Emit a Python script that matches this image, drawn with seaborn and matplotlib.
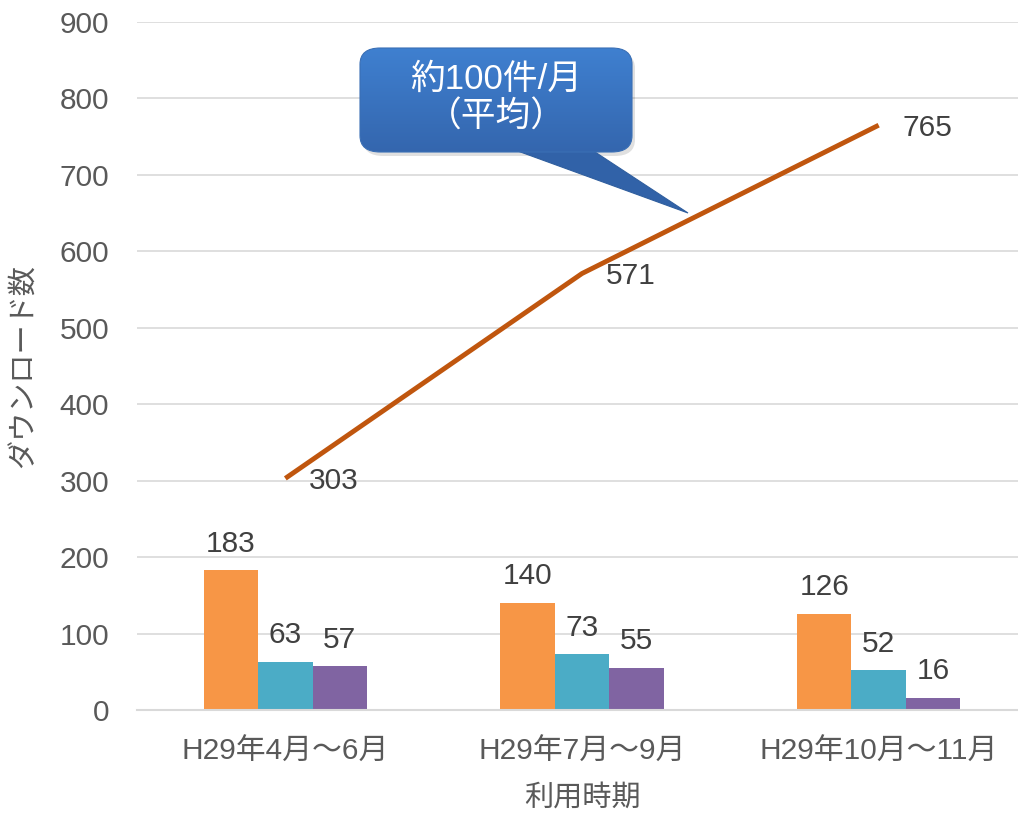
import matplotlib
matplotlib.use("Agg")
import matplotlib.pyplot as plt
import seaborn as sns
import pandas as pd
from matplotlib.patches import FancyBboxPatch, Polygon
from matplotlib.colors import LinearSegmentedColormap
import numpy as np

periods = ["H29年4月～6月", "H29年7月～9月", "H29年10月～11月"]
series_names = ["系列1", "系列2", "系列3"]
series1 = [183, 140, 126]
series2 = [63, 73, 52]
series3 = [57, 55, 16]
cumulative = [303, 571, 765]
bar_colors = ["#F79646", "#4BACC6", "#8064A2"]
line_color = "#C0560E"
text_color = "#595959"

sns.set_theme(style="white")
plt.rcParams['font.family'] = ['Liberation Sans', 'Noto Sans CJK JP']

rows = []
for name, vals in zip(series_names, [series1, series2, series3]):
    for p, v in zip(periods, vals):
        rows.append({"period": p, "series": name, "value": v})
df = pd.DataFrame(rows)

fig = plt.figure(figsize=(10.18, 8.16), dpi=100)
ax = fig.add_axes([137/1018, 106/816, 890/1018, 688/816])

sns.barplot(data=df, x="period", y="value", hue="series", order=periods,
            hue_order=series_names, palette=bar_colors, width=0.55,
            saturation=1, ax=ax, legend=False, edgecolor="none")

for cont in ax.containers:
    ax.bar_label(cont, fmt="%d", padding=9, fontsize=21.5, color="#404040")

x = np.arange(len(periods))
ax.plot(x, cumulative, color=line_color, lw=3.5, solid_capstyle="butt", zorder=5)
for xi, v in zip(x, cumulative):
    ax.annotate(str(v), (xi, v), xytext=(17, -2), textcoords="offset points",
                ha="left", va="center", fontsize=21.5, color="#404040")

ax.set_ylim(0, 900)
ax.set_xlim(-0.5, 2.5)
ax.set_yticks(range(0, 901, 100))
ax.yaxis.grid(True, color="#D9D9D9", lw=1.2)
ax.set_axisbelow(True)
for s in ["left", "right", "top"]:
    ax.spines[s].set_visible(False)
ax.spines["bottom"].set_color("#D9D9D9")
ax.spines["bottom"].set_linewidth(1.5)
ax.tick_params(axis="both", length=0, labelsize=21.5, colors=text_color)
ax.tick_params(axis="y", pad=20)
ax.tick_params(axis="x", pad=20)
ax.set_xlabel("利用時期", fontsize=21, color=text_color, labelpad=13)
ax.set_ylabel("ダウンロード数", fontsize=21, color=text_color, labelpad=16)

# callout
def fx(px):
    return px / 1018
def fy(py):
    return 1 - py / 816

shadow = FancyBboxPatch((fx(363), fy(156)), fx(632) - fx(360), fy(48) - fy(152),
                        boxstyle="round,pad=0,rounding_size=0.02",
                        transform=fig.transFigure, facecolor="#000000", alpha=0.12,
                        edgecolor="none", zorder=9)
fig.patches.append(shadow)
ptr = Polygon([(fx(515), fy(150)), (fx(592), fy(150)), (fx(688), fy(213))],
              closed=True, transform=fig.transFigure, facecolor="#3162A8",
              edgecolor="#2F5E9E", lw=0.8, zorder=10)
fig.patches.append(ptr)
box = FancyBboxPatch((fx(360), fy(152)), fx(632) - fx(360), fy(48) - fy(152),
                     boxstyle="round,pad=0,rounding_size=0.02",
                     transform=fig.transFigure, facecolor="none",
                     edgecolor="#3A6FB5", lw=0.8, zorder=11)
fig.patches.append(box)
ov = fig.add_axes([0, 0, 1, 1], zorder=11)
ov.set_axis_off()
ov.set_xlim(0, 1)
ov.set_ylim(0, 1)
grad = np.linspace(0, 1, 256).reshape(-1, 1)
cmap = LinearSegmentedColormap.from_list("g", ["#3F80D0", "#3466AE"])
im = ov.imshow(grad, cmap=cmap, aspect="auto",
               extent=[fx(360), fx(632), fy(152), fy(48)], origin="upper",
               transform=ov.transData, zorder=1)
box2 = FancyBboxPatch((fx(360), fy(152)), fx(632) - fx(360), fy(48) - fy(152),
                      boxstyle="round,pad=0,rounding_size=0.02",
                      transform=ov.transData, facecolor="none", edgecolor="none")
ov.add_patch(box2)
im.set_clip_path(box2)
ov.text(fx(496), fy(79), "約100件/月", ha="center", va="center", fontsize=25,
        color="white", zorder=3)
ov.text(fx(496), fy(117), "（平均）", ha="center", va="center", fontsize=25,
        color="white", zorder=3)

fig.savefig("out.png", dpi=100)
